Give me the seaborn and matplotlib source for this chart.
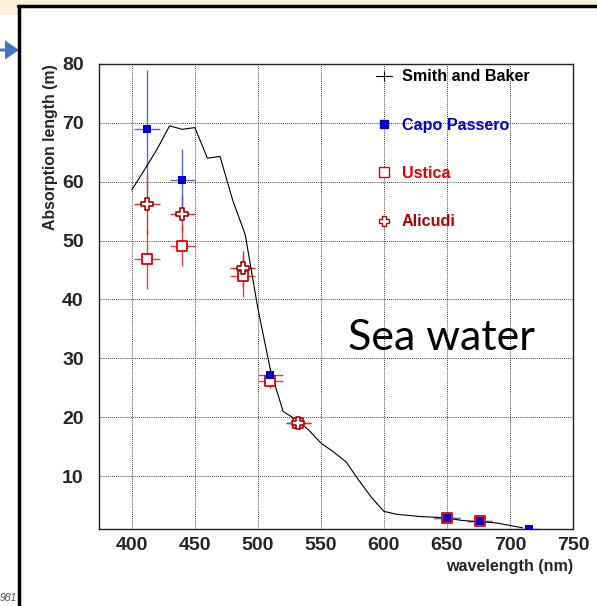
import numpy as np
import matplotlib
matplotlib.use("Agg")
import matplotlib.pyplot as plt
import seaborn as sns
from matplotlib.lines import Line2D
from matplotlib.patches import Rectangle, FancyArrow

# Smith and Baker pure water curve
sb_wl = [400, 410, 420, 430, 440, 450, 460, 470, 480, 490, 500, 510, 520, 530,
         540, 550, 560, 570, 580, 590, 600, 610, 620, 630, 640, 650, 660, 670,
         680, 690, 700, 710]
sb_len = [58.6, 62.0, 65.5, 69.5, 68.9, 69.2, 64.0, 64.3, 56.9, 51.0, 38.5, 28.0,
          21.0, 19.6, 17.9, 15.6, 14.1, 12.4, 9.3, 6.4, 4.0, 3.5, 3.3, 3.1, 3.0,
          2.9, 2.5, 2.3, 2.2, 2.0, 1.6, 1.2]

# Capo Passero
cp_wl = [412, 440, 510, 650, 676, 715]
cp_len = [68.9, 60.3, 27.2, 2.9, 2.3, 1.0]
cp_yerr = [10, 5.3, 1.2, 0.5, 0.5, 0.5]
cp_xerr = [10, 10, 10, 10, 10, 10]

# Ustica
us_wl = [412, 440, 488, 510, 532, 650, 676]
us_len = [46.8, 49.1, 44.0, 26.1, 19.0, 2.9, 2.3]
us_yerr = [5, 3.5, 3.6, 1.2, 0.6, 0.4, 0.4]
us_xerr = [10, 10, 10, 10, 10, 10, 10]

# Alicudi
al_wl = [412, 440, 488, 532]
al_len = [56.2, 54.5, 45.3, 19.0]
al_yerr = [5, 3, 3, 0.6]
al_xerr = [10, 10, 10, 10]

sns.set_theme(style="white")
plt.rcParams["font.family"] = ["Liberation Sans", "DejaVu Sans"]

W, H = 597, 606
fig = plt.figure(figsize=(W / 100, H / 100), dpi=100)
fig.patch.set_facecolor("white")


def fx(px):
    return px / W


def fy(py):
    return 1 - py / H


# slide decoration: beige strip, black frame, blue arrow, page number
beige = "#fbf1dc"
fig.add_artist(Rectangle((0, fy(6)), 1, 6 / H, transform=fig.transFigure,
                         color=beige, lw=0))
fig.add_artist(Rectangle((0, fy(15)), fx(18), 15 / H, transform=fig.transFigure,
                         color=beige, lw=0))
fig.add_artist(Line2D([fx(19), fx(19)], [0, fy(6)], transform=fig.transFigure,
                      color="black", lw=2.5))
fig.add_artist(Line2D([fx(18), 1], [fy(6), fy(6)], transform=fig.transFigure,
                      color="black", lw=2.5))
fig.add_artist(FancyArrow(0, fy(50), fx(5), 0, width=3 / H,
                          head_width=19 / H, head_length=fx(14),
                          length_includes_head=False, transform=fig.transFigure,
                          color="#4472c4", lw=0))
fig.text(fx(0), fy(598), "981", fontsize=7.5, style="italic", color="#555555",
         va="center")

ax = fig.add_axes([fx(99), fy(529), fx(573 - 99), (529 - 64) / H])
ax.set_facecolor("white")

blue = "#0000cc"
red = "#e00000"
dred = "#b00000"

# error bars
ax.errorbar(us_wl, us_len, xerr=us_xerr, yerr=us_yerr, fmt="none",
            ecolor="#e84040", elinewidth=1, zorder=2)
ax.errorbar(al_wl, al_len, xerr=al_xerr, yerr=al_yerr, fmt="none",
            ecolor="#d03030", elinewidth=1, zorder=2)
ax.errorbar(cp_wl, cp_len, xerr=cp_xerr, yerr=cp_yerr, fmt="none",
            ecolor="#5a6ad0", elinewidth=1, zorder=2)

sns.lineplot(x=sb_wl, y=sb_len, color="black", lw=0.8, ax=ax, zorder=3)
sns.scatterplot(x=us_wl, y=us_len, marker="s", s=60, facecolor="white",
                edgecolor=red, linewidth=1.3, ax=ax, zorder=4)
sns.scatterplot(x=al_wl, y=al_len, marker="P", s=70, facecolor="white",
                edgecolor=dred, linewidth=1.2, ax=ax, zorder=5)
sns.scatterplot(x=cp_wl, y=cp_len, marker="s", s=34, color=blue,
                edgecolor=blue, linewidth=0, ax=ax, zorder=6)

ax.set_xlim(374, 750)
ax.set_ylim(1, 80)
ax.set_xticks(range(400, 751, 50))
ax.set_xticks(range(375, 751, 25), minor=True)
ax.set_yticks(range(10, 81, 10))
ax.set_yticks(range(2, 81, 2), minor=True)
ax.grid(True, which="major", color="black", lw=0.6, ls=(0, (1, 1.5)))
ax.tick_params(which="both", direction="in", color="#333333",
               top=False, right=False)
ax.tick_params(which="major", length=10, width=0.8, labelsize=14)
ax.tick_params(which="minor", length=5, width=0.8)
ax.tick_params(axis="x", pad=6)
ax.tick_params(axis="y", pad=11)
for lab in ax.get_xticklabels() + ax.get_yticklabels():
    lab.set_fontweight("bold")
for sp in ax.spines.values():
    sp.set_color("#222222")
    sp.set_linewidth(1.0)

ax.set_ylabel("Absorption length (m)", loc="top", fontsize=11.4,
              fontweight="bold")
ax.yaxis.set_label_coords(-0.087, 1.0)
ax.set_xlabel("wavelength (nm)", loc="right", fontsize=11.6, fontweight="bold")
ax.xaxis.set_label_coords(1.0, -0.064)

ax.text(0.525, 0.41, "Sea water", transform=ax.transAxes, fontsize=31,
        family="Lato", va="center", ha="left", color="black")

handles = [
    Line2D([], [], color="black", lw=0.8, marker="|", markersize=7,
           markeredgewidth=0.8),
    Line2D([], [], ls="none", marker="s", markersize=6, color=blue),
    Line2D([], [], ls="none", marker="s", markersize=6.5,
           markerfacecolor="white", markeredgecolor=red, markeredgewidth=1),
    Line2D([], [], ls="none", marker="P", markersize=7,
           markerfacecolor="white", markeredgecolor=dred, markeredgewidth=1),
]
labels = ["Smith and Baker", "Capo Passero", "Ustica", "Alicudi"]
leg = ax.legend(handles, labels, loc="upper left", bbox_to_anchor=(0.554, 1.02),
                frameon=False, handlelength=1.0, handletextpad=0.6,
                labelspacing=2.07, prop={"weight": "bold", "size": 11.6})
for t, c in zip(leg.get_texts(), ["black", blue, red, dred]):
    t.set_color(c)

fig.savefig("out.png", dpi=100)
